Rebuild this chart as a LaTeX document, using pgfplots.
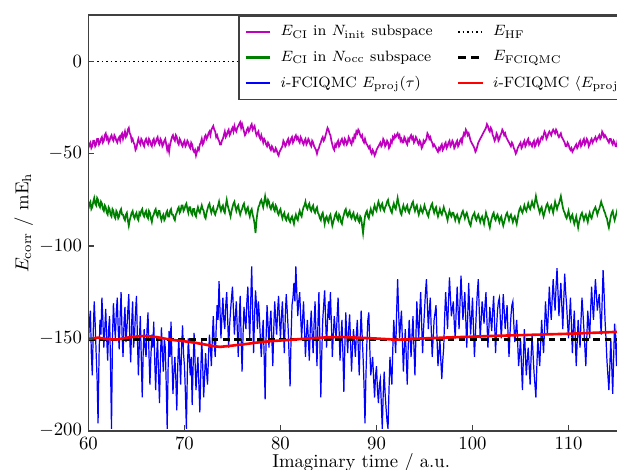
\documentclass[border=0pt]{standalone}
\usepackage{pgfplots}
\pgfplotsset{compat=1.18}
\definecolor{mplm}{rgb}{0.75,0,0.75}
\definecolor{mplg}{rgb}{0,0.5,0}
\begin{document}
\begin{tikzpicture}
% the reference is cut off on the right, so the axis runs past the page edge
\useasboundingbox (-47.3pt,-21.0pt) rectangle (282.6pt,230.3pt);
\clip (-47.3pt,-21.0pt) rectangle (282.6pt,230.3pt);
\begin{axis}[
    at={(0,0)}, anchor=south west,
    scale only axis,
    width=291.6pt, height=222.2pt,
    xmin=60, xmax=116.8,
    ymin=-200, ymax=25,
    xtick={60,70,...,110},
    ytick={-200,-150,...,0},
    tick pos=left,
    tick align=inside,
    major tick length=3pt,
    axis on top,
    axis line style={black!75, line width=0.9pt},
    every tick/.style={black!75, line width=0.7pt},
    xlabel={Imaginary time / a.u.},
    xlabel style={yshift=4.5pt},
    ylabel={$E_{\mathrm{corr}}$ / mE$_{\mathrm{h}}$},
    ylabel shift=-3.5pt,
    legend columns=2,
    legend cell align=left,
    legend style={at={(0.274,1)}, anchor=north west, draw=black!75,
        line width=0.9pt, fill=white, font=\footnotesize,
        inner xsep=3pt, inner ysep=3pt, row sep=2.5pt,
        /tikz/every odd column/.append style={column sep=3pt},
        /tikz/every even column/.append style={column sep=11pt}},
    legend image code/.code={\draw[#1] (0pt,0pt) -- (13pt,0pt);},
]
\addplot[mplm, line width=0.9pt, forget plot] coordinates {
(60.0,-47)(60.1,-45)(60.2,-44)(60.3,-47)(60.4,-46)(60.5,-43)(60.6,-43)(60.7,-46)(60.8,-45)(60.9,-42)
(61.0,-42)(61.1,-45)(61.2,-44)(61.3,-42)(61.4,-41)(61.5,-44)(61.6,-43)(61.7,-40)(61.8,-39)(61.9,-42)
(62.0,-41)(62.1,-44)(62.2,-43)(62.3,-41)(62.4,-40)(62.5,-42)(62.6,-43)(62.7,-40)(62.8,-41)(62.9,-43)
(63.0,-44)(63.1,-42)(63.2,-41)(63.3,-43)(63.4,-40)(63.5,-39)(63.6,-42)(63.7,-40)(63.8,-38)(63.9,-41)
(64.0,-40)(64.1,-37)(64.2,-36)(64.3,-39)(64.4,-40)(64.5,-43)(64.6,-42)(64.7,-44)(64.8,-45)(64.9,-48)
(65.0,-47)(65.1,-44)(65.2,-42)(65.3,-44)(65.4,-45)(65.5,-42)(65.6,-43)(65.7,-45)(65.8,-46)(65.9,-43)
(66.0,-42)(66.1,-44)(66.2,-45)(66.3,-42)(66.4,-43)(66.5,-45)(66.6,-46)(66.7,-43)(66.8,-42)(66.9,-45)
(67.0,-44)(67.1,-42)(67.2,-41)(67.3,-44)(67.4,-45)(67.5,-42)(67.6,-43)(67.7,-46)(67.8,-45)(67.9,-43)
(68.0,-42)(68.1,-45)(68.2,-48)(68.3,-46)(68.4,-49)(68.5,-45)(68.6,-43)(68.7,-41)(68.8,-40)(68.9,-42)
(69.0,-43)(69.1,-40)(69.2,-41)(69.3,-44)(69.4,-45)(69.5,-42)(69.6,-43)(69.7,-45)(69.8,-46)(69.9,-44)
(70.0,-43)(70.1,-46)(70.2,-45)(70.3,-43)(70.4,-44)(70.5,-46)(70.6,-47)(70.7,-44)(70.8,-45)(70.9,-48)
(71.0,-49)(71.1,-48)(71.2,-51)(71.3,-49)(71.4,-47)(71.5,-48)(71.6,-45)(71.7,-44)(71.8,-42)(71.9,-45)
(72.0,-44)(72.1,-41)(72.2,-40)(72.3,-42)(72.4,-41)(72.5,-39)(72.6,-38)(72.7,-40)(72.8,-37)(72.9,-36)
(73.0,-35)(73.1,-37)(73.2,-38)(73.3,-41)(73.4,-40)(73.5,-42)(73.6,-43)(73.7,-45)(73.8,-45)(73.9,-43)
(74.0,-42)(74.1,-40)(74.2,-38)(74.3,-41)(74.4,-40)(74.5,-38)(74.6,-37)(74.7,-40)(74.8,-39)(74.9,-37)
(75.0,-36)(75.1,-38)(75.2,-35)(75.3,-37)(75.4,-38)(75.5,-36)(75.6,-35)(75.7,-34)(75.8,-33)(75.9,-36)
(76.0,-34)(76.1,-36)(76.2,-38)(76.3,-40)(76.4,-39)(76.5,-37)(76.6,-36)(76.7,-38)(76.8,-37)(76.9,-35)
(77.0,-34)(77.1,-37)(77.2,-36)(77.3,-35)(77.4,-38)(77.5,-40)(77.6,-39)(77.7,-38)(77.8,-41)(77.9,-42)
(78.0,-40)(78.1,-42)(78.2,-44)(78.3,-42)(78.4,-43)(78.5,-45)(78.6,-46)(78.7,-44)(78.8,-45)(78.9,-47)
(79.0,-48)(79.1,-46)(79.2,-47)(79.3,-49)(79.4,-49)(79.5,-47)(79.6,-48)(79.7,-50)(79.8,-51)(79.9,-49)
(80.0,-48)(80.1,-47)(80.2,-46)(80.3,-43)(80.4,-44)(80.5,-46)(80.6,-45)(80.7,-43)(80.8,-42)(80.9,-45)
(81.0,-44)(81.1,-42)(81.2,-41)(81.3,-44)(81.4,-43)(81.5,-41)(81.6,-40)(81.7,-42)(81.8,-41)(81.9,-43)
(82.0,-44)(82.1,-41)(82.2,-42)(82.3,-44)(82.4,-45)(82.5,-43)(82.6,-42)(82.7,-45)(82.8,-44)(82.9,-42)
(83.0,-43)(83.1,-45)(83.2,-46)(83.3,-43)(83.4,-44)(83.5,-46)(83.6,-47)(83.7,-48)(83.8,-50)(83.9,-48)
(84.0,-47)(84.1,-45)(84.2,-44)(84.3,-42)(84.4,-41)(84.5,-43)(84.6,-42)(84.7,-40)(84.8,-38)(84.9,-36)
(85.0,-37)(85.1,-39)(85.2,-40)(85.3,-43)(85.4,-45)(85.5,-47)(85.6,-48)(85.7,-45)(85.8,-46)(85.9,-44)
(86.0,-43)(86.1,-46)(86.2,-45)(86.3,-43)(86.4,-42)(86.5,-44)(86.6,-45)(86.7,-42)(86.8,-43)(86.9,-45)
(87.0,-44)(87.1,-41)(87.2,-42)(87.3,-44)(87.4,-45)(87.5,-42)(87.6,-43)(87.7,-40)(87.8,-41)(87.9,-38)
(88.0,-39)(88.1,-37)(88.2,-38)(88.3,-40)(88.4,-41)(88.5,-40)(88.6,-43)(88.7,-44)(88.8,-42)(88.9,-44)
(89.0,-45)(89.1,-46)(89.2,-47)(89.3,-46)(89.4,-49)(89.5,-50)(89.6,-48)(89.7,-49)(89.8,-51)(89.9,-50)
(90.0,-48)(90.1,-47)(90.2,-46)(90.3,-45)(90.4,-44)(90.5,-46)(90.6,-45)(90.7,-42)(90.8,-43)(90.9,-46)
(91.0,-45)(91.1,-43)(91.2,-44)(91.3,-47)(91.4,-46)(91.5,-43)(91.6,-44)(91.7,-41)(91.8,-42)(91.9,-40)
(92.0,-41)(92.1,-40)(92.2,-39)(92.3,-41)(92.4,-40)(92.5,-43)(92.6,-42)(92.7,-44)(92.8,-44)(92.9,-41)
(93.0,-42)(93.1,-44)(93.2,-45)(93.3,-42)(93.4,-43)(93.5,-41)(93.6,-40)(93.7,-42)(93.8,-41)(93.9,-44)
(94.0,-43)(94.1,-41)(94.2,-42)(94.3,-44)(94.4,-45)(94.5,-43)(94.6,-44)(94.7,-47)(94.8,-46)(94.9,-43)
(95.0,-44)(95.1,-43)(95.2,-42)(95.3,-39)(95.4,-40)(95.5,-42)(95.6,-41)(95.7,-43)(95.8,-44)(95.9,-46)
(96.0,-45)(96.1,-46)(96.2,-47)(96.3,-48)(96.4,-49)(96.5,-47)(96.6,-48)(96.7,-46)(96.8,-45)(96.9,-48)
(97.0,-47)(97.1,-45)(97.2,-44)(97.3,-47)(97.4,-46)(97.5,-44)(97.6,-43)(97.7,-46)(97.8,-45)(97.9,-43)
(98.0,-44)(98.1,-47)(98.2,-46)(98.3,-44)(98.4,-43)(98.5,-46)(98.6,-45)(98.7,-43)(98.8,-42)(98.9,-44)
(99.0,-41)(99.1,-39)(99.2,-40)(99.3,-37)(99.4,-38)(99.5,-40)(99.6,-39)(99.7,-41)(99.8,-43)(99.9,-44)
(100.0,-45)(100.1,-46)(100.2,-47)(100.3,-49)(100.4,-48)(100.5,-46)(100.6,-44)(100.7,-43)(100.8,-42)(100.9,-41)
(101.0,-40)(101.1,-39)(101.2,-38)(101.3,-37)(101.4,-36)(101.5,-34)(101.6,-35)(101.7,-37)(101.8,-38)(101.9,-36)
(102.0,-37)(102.1,-40)(102.2,-41)(102.3,-43)(102.4,-42)(102.5,-39)(102.6,-40)(102.7,-43)(102.8,-42)(102.9,-40)
(103.0,-39)(103.1,-37)(103.2,-38)(103.3,-40)(103.4,-39)(103.5,-41)(103.6,-42)(103.7,-43)(103.8,-44)(103.9,-45)
(104.0,-46)(104.1,-44)(104.2,-45)(104.3,-47)(104.4,-48)(104.5,-50)(104.6,-49)(104.7,-47)(104.8,-46)(104.9,-45)
(105.0,-44)(105.1,-47)(105.2,-46)(105.3,-44)(105.4,-43)(105.5,-46)(105.6,-45)(105.7,-43)(105.8,-42)(105.9,-45)
(106.0,-44)(106.1,-45)(106.2,-46)(106.3,-44)(106.4,-43)(106.5,-46)(106.6,-45)(106.7,-43)(106.8,-42)(106.9,-45)
(107.0,-44)(107.1,-42)(107.2,-41)(107.3,-42)(107.4,-40)(107.5,-38)(107.6,-39)(107.7,-42)(107.8,-41)(107.9,-39)
(108.0,-38)(108.1,-39)(108.2,-40)(108.3,-38)(108.4,-37)(108.5,-38)(108.6,-39)(108.7,-37)(108.8,-38)(108.9,-40)
(109.0,-41)(109.1,-40)(109.2,-39)(109.3,-41)(109.4,-42)(109.5,-43)(109.6,-44)(109.7,-46)(109.8,-46)(109.9,-44)
(110.0,-45)(110.1,-47)(110.2,-48)(110.3,-47)(110.4,-49)(110.5,-48)(110.6,-47)(110.7,-46)(110.8,-45)(110.9,-47)
(111.0,-46)(111.1,-44)(111.2,-43)(111.3,-46)(111.4,-45)(111.5,-43)(111.6,-42)(111.7,-45)(111.8,-44)(111.9,-42)
(112.0,-43)(112.1,-46)(112.2,-45)(112.3,-43)(112.4,-42)(112.5,-44)(112.6,-43)(112.7,-42)(112.8,-41)(112.9,-43)
(113.0,-42)(113.1,-41)(113.2,-40)(113.3,-42)(113.4,-41)(113.5,-38)(113.6,-39)(113.7,-41)(113.8,-40)(113.9,-41)
(114.0,-42)(114.1,-43)(114.2,-44)(114.3,-42)(114.4,-42)(114.5,-44)(114.6,-45)(114.7,-43)(114.8,-44)(114.9,-46)
(115.0,-46)(115.1,-43)(115.2,-44)(115.3,-46)(115.4,-47)(115.5,-44)(115.6,-45)(115.7,-42)(115.8,-43)(115.9,-45)(116.0,-46)
};
\addplot[mplg, line width=0.9pt, forget plot] coordinates {
(60.0,-80)(60.1,-77)(60.2,-76)(60.3,-80)(60.4,-79)(60.5,-76)(60.6,-74)(60.7,-77)(60.8,-78)(60.9,-74)
(61.0,-75)(61.1,-78)(61.2,-79)(61.3,-76)(61.4,-77)(61.5,-80)(61.6,-81)(61.7,-78)(61.8,-79)(61.9,-82)
(62.0,-83)(62.1,-79)(62.2,-80)(62.3,-83)(62.4,-84)(62.5,-80)(62.6,-81)(62.7,-84)(62.8,-85)(62.9,-81)
(63.0,-82)(63.1,-85)(63.2,-84)(63.3,-81)(63.4,-80)(63.5,-83)(63.6,-83)(63.7,-85)(63.8,-86)(63.9,-83)
(64.0,-82)(64.1,-86)(64.2,-89)(64.3,-86)(64.4,-84)(64.5,-82)(64.6,-81)(64.7,-84)(64.8,-85)(64.9,-83)
(65.0,-82)(65.1,-85)(65.2,-86)(65.3,-82)(65.4,-83)(65.5,-81)(65.6,-80)(65.7,-83)(65.8,-84)(65.9,-82)
(66.0,-81)(66.1,-84)(66.2,-85)(66.3,-81)(66.4,-82)(66.5,-85)(66.6,-87)(66.7,-84)(66.8,-83)(66.9,-81)
(67.0,-80)(67.1,-83)(67.2,-84)(67.3,-81)(67.4,-81)(67.5,-84)(67.6,-86)(67.7,-84)(67.8,-83)(67.9,-86)
(68.0,-85)(68.1,-82)(68.2,-81)(68.3,-84)(68.4,-84)(68.5,-81)(68.6,-80)(68.7,-83)(68.8,-83)(68.9,-85)
(69.0,-86)(69.1,-83)(69.2,-82)(69.3,-80)(69.4,-79)(69.5,-82)(69.6,-81)(69.7,-78)(69.8,-78)(69.9,-81)
(70.0,-80)(70.1,-78)(70.2,-77)(70.3,-80)(70.4,-82)(70.5,-79)(70.6,-79)(70.7,-82)(70.8,-83)(70.9,-80)
(71.0,-80)(71.1,-83)(71.2,-84)(71.3,-81)(71.4,-79)(71.5,-81)(71.6,-82)(71.7,-80)(71.8,-78)(71.9,-80)
(72.0,-81)(72.1,-84)(72.2,-85)(72.3,-82)(72.4,-80)(72.5,-78)(72.6,-77)(72.7,-80)(72.8,-82)(72.9,-80)
(73.0,-79)(73.1,-82)(73.2,-83)(73.3,-81)(73.4,-80)(73.5,-78)(73.6,-76)(73.7,-79)(73.8,-81)(73.9,-79)
(74.0,-78)(74.1,-81)(74.2,-82)(74.3,-78)(74.4,-75)(74.5,-78)(74.6,-80)(74.7,-82)(74.8,-84)(74.9,-81)
(75.0,-79)(75.1,-77)(75.2,-76)(75.3,-79)(75.4,-81)(75.5,-79)(75.6,-78)(75.7,-81)(75.8,-83)(75.9,-81)
(76.0,-80)(76.1,-78)(76.2,-77)(76.3,-80)(76.4,-82)(76.5,-80)(76.6,-79)(76.7,-82)(76.8,-84)(76.9,-81)
(77.0,-80)(77.1,-83)(77.2,-85)(77.3,-88)(77.4,-93)(77.5,-86)(77.6,-82)(77.7,-79)(77.8,-78)(77.9,-76)
(78.0,-75)(78.1,-77)(78.2,-79)(78.3,-76)(78.4,-73)(78.5,-76)(78.6,-78)(78.7,-75)(78.8,-76)(78.9,-79)
(79.0,-80)(79.1,-78)(79.2,-77)(79.3,-80)(79.4,-81)(79.5,-78)(79.6,-79)(79.7,-82)(79.8,-83)(79.9,-81)
(80.0,-80)(80.1,-83)(80.2,-85)(80.3,-83)(80.4,-82)(80.5,-85)(80.6,-86)(80.7,-84)(80.8,-83)(80.9,-86)
(81.0,-87)(81.1,-85)(81.2,-84)(81.3,-86)(81.4,-88)(81.5,-85)(81.6,-83)(81.7,-85)(81.8,-86)(81.9,-83)
(82.0,-81)(82.1,-83)(82.2,-84)(82.3,-81)(82.4,-79)(82.5,-78)(82.6,-76)(82.7,-79)(82.8,-80)(82.9,-78)
(83.0,-77)(83.1,-80)(83.2,-81)(83.3,-79)(83.4,-78)(83.5,-81)(83.6,-82)(83.7,-80)(83.8,-79)(83.9,-82)
(84.0,-83)(84.1,-85)(84.2,-86)(84.3,-83)(84.4,-82)(84.5,-85)(84.6,-88)(84.7,-85)(84.8,-84)(84.9,-86)
(85.0,-87)(85.1,-84)(85.2,-83)(85.3,-86)(85.4,-89)(85.5,-87)(85.6,-85)(85.7,-83)(85.8,-82)(85.9,-85)
(86.0,-86)(86.1,-83)(86.2,-84)(86.3,-87)(86.4,-88)(86.5,-85)(86.6,-83)(86.7,-81)(86.8,-80)(86.9,-83)
(87.0,-84)(87.1,-82)(87.2,-81)(87.3,-84)(87.4,-85)(87.5,-83)(87.6,-82)(87.7,-85)(87.8,-86)(87.9,-84)
(88.0,-83)(88.1,-86)(88.2,-87)(88.3,-84)(88.4,-85)(88.5,-89)(88.6,-93)(88.7,-88)(88.8,-84)(88.9,-82)
(89.0,-81)(89.1,-84)(89.2,-85)(89.3,-82)(89.4,-80)(89.5,-82)(89.6,-83)(89.7,-80)(89.8,-78)(89.9,-80)
(90.0,-81)(90.1,-78)(90.2,-76)(90.3,-78)(90.4,-80)(90.5,-78)(90.6,-77)(90.7,-80)(90.8,-81)(90.9,-79)
(91.0,-78)(91.1,-76)(91.2,-75)(91.3,-78)(91.4,-79)(91.5,-81)(91.6,-82)(91.7,-79)(91.8,-77)(91.9,-79)
(92.0,-80)(92.1,-77)(92.2,-74)(92.3,-77)(92.4,-79)(92.5,-82)(92.6,-83)(92.7,-80)(92.8,-78)(92.9,-80)
(93.0,-81)(93.1,-79)(93.2,-78)(93.3,-81)(93.4,-82)(93.5,-80)(93.6,-79)(93.7,-77)(93.8,-76)(93.9,-79)
(94.0,-81)(94.1,-79)(94.2,-78)(94.3,-81)(94.4,-83)(94.5,-81)(94.6,-79)(94.7,-81)(94.8,-82)(94.9,-80)
(95.0,-78)(95.1,-80)(95.2,-81)(95.3,-83)(95.4,-84)(95.5,-81)(95.6,-80)(95.7,-78)(95.8,-77)(95.9,-80)
(96.0,-82)(96.1,-80)(96.2,-79)(96.3,-82)(96.4,-84)(96.5,-82)(96.6,-80)(96.7,-82)(96.8,-83)(96.9,-81)
(97.0,-79)(97.1,-81)(97.2,-82)(97.3,-84)(97.4,-86)(97.5,-83)(97.6,-81)(97.7,-83)(97.8,-84)(97.9,-82)
(98.0,-82)(98.1,-84)(98.2,-86)(98.3,-84)(98.4,-83)(98.5,-85)(98.6,-87)(98.7,-85)(98.8,-84)(98.9,-82)
(99.0,-81)(99.1,-83)(99.2,-85)(99.3,-83)(99.4,-82)(99.5,-84)(99.6,-86)(99.7,-88)(99.8,-89)(99.9,-86)
(100.0,-84)(100.1,-83)(100.2,-82)(100.3,-85)(100.4,-86)(100.5,-84)(100.6,-83)(100.7,-85)(100.8,-87)(100.9,-85)
(101.0,-84)(101.1,-86)(101.2,-88)(101.3,-85)(101.4,-82)(101.5,-84)(101.6,-85)(101.7,-88)(101.8,-90)(101.9,-87)
(102.0,-85)(102.1,-83)(102.2,-82)(102.3,-85)(102.4,-86)(102.5,-84)(102.6,-83)(102.7,-85)(102.8,-87)(102.9,-85)
(103.0,-84)(103.1,-87)(103.2,-89)(103.3,-87)(103.4,-85)(103.5,-83)(103.6,-82)(103.7,-84)(103.8,-86)(103.9,-84)
(104.0,-83)(104.1,-85)(104.2,-87)(104.3,-85)(104.4,-84)(104.5,-86)(104.6,-88)(104.7,-85)(104.8,-82)(104.9,-80)
(105.0,-79)(105.1,-81)(105.2,-82)(105.3,-80)(105.4,-78)(105.5,-80)(105.6,-81)(105.7,-79)(105.8,-77)(105.9,-79)
(106.0,-80)(106.1,-78)(106.2,-76)(106.3,-78)(106.4,-79)(106.5,-76)(106.6,-73)(106.7,-76)(106.8,-78)(106.9,-80)
(107.0,-82)(107.1,-80)(107.2,-79)(107.3,-82)(107.4,-84)(107.5,-82)(107.6,-80)(107.7,-78)(107.8,-77)(107.9,-79)
(108.0,-81)(108.1,-79)(108.2,-78)(108.3,-80)(108.4,-82)(108.5,-79)(108.6,-76)(108.7,-78)(108.8,-80)(108.9,-78)
(109.0,-77)(109.1,-75)(109.2,-73)(109.3,-76)(109.4,-79)(109.5,-81)(109.6,-82)(109.7,-84)(109.8,-85)(109.9,-83)
(110.0,-81)(110.1,-84)(110.2,-86)(110.3,-84)(110.4,-83)(110.5,-86)(110.6,-88)(110.7,-86)(110.8,-84)(110.9,-87)
(111.0,-90)(111.1,-87)(111.2,-85)(111.3,-83)(111.4,-82)(111.5,-84)(111.6,-86)(111.7,-84)(111.8,-83)(111.9,-85)
(112.0,-87)(112.1,-84)(112.2,-82)(112.3,-84)(112.4,-85)(112.5,-83)(112.6,-81)(112.7,-80)(112.8,-79)(112.9,-81)
(113.0,-83)(113.1,-81)(113.2,-80)(113.3,-78)(113.4,-76)(113.5,-78)(113.6,-79)(113.7,-81)(113.8,-82)(113.9,-84)
(114.0,-85)(114.1,-88)(114.2,-90)(114.3,-87)(114.4,-84)(114.5,-82)(114.6,-81)(114.7,-84)(114.8,-86)(114.9,-84)
(115.0,-82)(115.1,-80)(115.2,-79)(115.3,-81)(115.4,-83)(115.5,-81)(115.6,-80)(115.7,-82)(115.8,-84)(115.9,-83)(116.0,-82)
};
\addplot[blue, line width=0.65pt, forget plot] coordinates {
(60.0,-152)(60.1,-141)(60.2,-135)(60.3,-158)(60.4,-170)(60.5,-146)(60.6,-130)(60.7,-142)(60.8,-158)(60.9,-172)
(61.0,-196)(61.1,-160)(61.2,-140)(61.3,-148)(61.4,-128)(61.5,-140)(61.6,-155)(61.7,-145)(61.8,-134)(61.9,-150)
(62.0,-162)(62.1,-145)(62.2,-138)(62.3,-165)(62.4,-199)(62.5,-150)(62.6,-131)(62.7,-142)(62.8,-150)(62.9,-136)
(63.0,-128)(63.1,-145)(63.2,-156)(63.3,-138)(63.4,-125)(63.5,-148)(63.6,-160)(63.7,-142)(63.8,-133)(63.9,-152)
(64.0,-145)(64.1,-135)(64.2,-126)(64.3,-150)(64.4,-163)(64.5,-142)(64.6,-130)(64.7,-155)(64.8,-148)(64.9,-136)
(65.0,-127)(65.1,-150)(65.2,-170)(65.3,-152)(65.4,-138)(65.5,-160)(65.6,-182)(65.7,-158)(65.8,-145)(65.9,-155)
(66.0,-160)(66.1,-145)(66.2,-136)(66.3,-158)(66.4,-175)(66.5,-160)(66.6,-148)(66.7,-155)(66.8,-141)(66.9,-162)
(67.0,-178)(67.1,-160)(67.2,-150)(67.3,-170)(67.4,-185)(67.5,-160)(67.6,-144)(67.7,-158)(67.8,-168)(67.9,-150)
(68.0,-155)(68.1,-175)(68.2,-199)(68.3,-165)(68.4,-146)(68.5,-160)(68.6,-141)(68.7,-162)(68.8,-180)(68.9,-168)
(69.0,-160)(69.1,-172)(69.2,-189)(69.3,-165)(69.4,-150)(69.5,-162)(69.6,-175)(69.7,-155)(69.8,-143)(69.9,-158)
(70.0,-165)(70.1,-180)(70.2,-199)(70.3,-168)(70.4,-150)(70.5,-160)(70.6,-170)(70.7,-160)(70.8,-186)(70.9,-165)
(71.0,-147)(71.1,-162)(71.2,-178)(71.3,-168)(71.4,-160)(71.5,-175)(71.6,-190)(71.7,-168)(71.8,-150)(71.9,-165)
(72.0,-182)(72.1,-170)(72.2,-158)(72.3,-168)(72.4,-175)(72.5,-160)(72.6,-148)(72.7,-155)(72.8,-165)(72.9,-150)
(73.0,-138)(73.1,-152)(73.2,-160)(73.3,-145)(73.4,-132)(73.5,-140)(73.6,-119)(73.7,-135)(73.8,-150)(73.9,-138)
(74.0,-128)(74.1,-140)(74.2,-145)(74.3,-132)(74.4,-125)(74.5,-140)(74.6,-155)(74.7,-143)(74.8,-135)(74.9,-128)
(75.0,-122)(75.1,-135)(75.2,-148)(75.3,-138)(75.4,-130)(75.5,-145)(75.6,-160)(75.7,-140)(75.8,-127)(75.9,-150)
(76.0,-168)(76.1,-148)(76.2,-133)(76.3,-140)(76.4,-145)(76.5,-130)(76.6,-122)(76.7,-138)(76.8,-150)(76.9,-130)
(77.0,-111)(77.1,-135)(77.2,-158)(77.3,-138)(77.4,-124)(77.5,-132)(77.6,-145)(77.7,-130)(77.8,-138)(77.9,-150)
(78.0,-160)(78.1,-148)(78.2,-140)(78.3,-160)(78.4,-183)(78.5,-150)(78.6,-132)(78.7,-142)(78.8,-155)(78.9,-142)
(79.0,-135)(79.1,-150)(79.2,-165)(79.3,-145)(79.4,-130)(79.5,-140)(79.6,-148)(79.7,-135)(79.8,-127)(79.9,-140)
(80.0,-150)(80.1,-138)(80.2,-130)(80.3,-145)(80.4,-158)(80.5,-138)(80.6,-126)(80.7,-135)(80.8,-145)(80.9,-160)
(81.0,-176)(81.1,-150)(81.2,-132)(81.3,-128)(81.4,-120)(81.5,-130)(81.6,-111)(81.7,-125)(81.8,-138)(81.9,-130)
(82.0,-125)(82.1,-138)(82.2,-150)(82.3,-140)(82.4,-130)(82.5,-145)(82.6,-160)(82.7,-148)(82.8,-140)(82.9,-150)
(83.0,-162)(83.1,-145)(83.2,-135)(83.3,-148)(83.4,-158)(83.5,-142)(83.6,-130)(83.7,-148)(83.8,-165)(83.9,-142)
(84.0,-125)(84.1,-150)(84.2,-182)(84.3,-158)(84.4,-140)(84.5,-132)(84.6,-124)(84.7,-140)(84.8,-155)(84.9,-140)
(85.0,-130)(85.1,-140)(85.2,-125)(85.3,-142)(85.4,-160)(85.5,-148)(85.6,-138)(85.7,-145)(85.8,-150)(85.9,-138)
(86.0,-128)(86.1,-145)(86.2,-162)(86.3,-150)(86.4,-140)(86.5,-158)(86.6,-179)(86.7,-155)(86.8,-136)(86.9,-148)
(87.0,-158)(87.1,-145)(87.2,-137)(87.3,-152)(87.4,-168)(87.5,-155)(87.6,-145)(87.7,-152)(87.8,-160)(87.9,-148)
(88.0,-140)(88.1,-155)(88.2,-170)(88.3,-150)(88.4,-135)(88.5,-148)(88.6,-160)(88.7,-175)(88.8,-196)(88.9,-170)
(89.0,-152)(89.1,-140)(89.2,-136)(89.3,-155)(89.4,-170)(89.5,-165)(89.6,-160)(89.7,-172)(89.8,-182)(89.9,-170)
(90.0,-165)(90.1,-178)(90.2,-185)(90.3,-175)(90.4,-172)(90.5,-185)(90.6,-199)(90.7,-180)(90.8,-168)(90.9,-180)
(91.0,-188)(91.1,-195)(91.2,-199)(91.3,-178)(91.4,-160)(91.5,-168)(91.6,-175)(91.7,-155)(91.8,-140)(91.9,-150)
(92.0,-158)(92.1,-135)(92.2,-118)(92.3,-135)(92.4,-150)(92.5,-142)(92.6,-135)(92.7,-152)(92.8,-168)(92.9,-155)
(93.0,-145)(93.1,-160)(93.2,-175)(93.3,-155)(93.4,-140)(93.5,-150)(93.6,-160)(93.7,-148)(93.8,-138)(93.9,-155)
(94.0,-170)(94.1,-150)(94.2,-130)(94.3,-142)(94.4,-150)(94.5,-136)(94.6,-125)(94.7,-142)(94.8,-158)(94.9,-145)
(95.0,-135)(95.1,-125)(95.2,-118)(95.3,-132)(95.4,-145)(95.5,-135)(95.6,-128)(95.7,-145)(95.8,-160)(95.9,-150)
(96.0,-140)(96.1,-136)(96.2,-132)(96.3,-150)(96.4,-165)(96.5,-158)(96.6,-150)(96.7,-162)(96.8,-172)(96.9,-162)
(97.0,-155)(97.1,-138)(97.2,-125)(97.3,-135)(97.4,-145)(97.5,-130)(97.6,-117)(97.7,-128)(97.8,-138)(97.9,-134)
(98.0,-130)(98.1,-142)(98.2,-150)(98.3,-135)(98.4,-122)(98.5,-135)(98.6,-145)(98.7,-130)(98.8,-116)(98.9,-128)
(99.0,-140)(99.1,-132)(99.2,-125)(99.3,-140)(99.4,-155)(99.5,-138)(99.6,-120)(99.7,-135)(99.8,-148)(99.9,-138)
(100.0,-128)(100.1,-145)(100.2,-160)(100.3,-148)(100.4,-135)(100.5,-125)(100.6,-118)(100.7,-135)(100.8,-150)(100.9,-140)
(101.0,-130)(101.1,-136)(101.2,-142)(101.3,-132)(101.4,-125)(101.5,-140)(101.6,-155)(101.7,-145)(101.8,-133)(101.9,-140)
(102.0,-146)(102.1,-135)(102.2,-127)(102.3,-142)(102.4,-158)(102.5,-145)(102.6,-135)(102.7,-130)(102.8,-128)(102.9,-140)
(103.0,-150)(103.1,-138)(103.2,-126)(103.3,-135)(103.4,-145)(103.5,-138)(103.6,-132)(103.7,-148)(103.8,-160)(103.9,-148)
(104.0,-138)(104.1,-132)(104.2,-130)(104.3,-142)(104.4,-152)(104.5,-146)(104.6,-140)(104.7,-152)(104.8,-165)(104.9,-158)
(105.0,-150)(105.1,-165)(105.2,-178)(105.3,-160)(105.4,-145)(105.5,-158)(105.6,-170)(105.7,-162)(105.8,-155)(105.9,-165)
(106.0,-175)(106.1,-160)(106.2,-148)(106.3,-158)(106.4,-168)(106.5,-175)(106.6,-182)(106.7,-165)(106.8,-150)(106.9,-158)
(107.0,-165)(107.1,-152)(107.2,-140)(107.3,-150)(107.4,-158)(107.5,-145)(107.6,-130)(107.7,-140)(107.8,-148)(107.9,-135)
(108.0,-122)(108.1,-132)(108.2,-140)(108.3,-128)(108.4,-118)(108.5,-128)(108.6,-135)(108.7,-122)(108.8,-112)(108.9,-125)
(109.0,-138)(109.1,-128)(109.2,-120)(109.3,-132)(109.4,-145)(109.5,-130)(109.6,-115)(109.7,-125)(109.8,-132)(109.9,-142)
(110.0,-150)(110.1,-138)(110.2,-128)(110.3,-142)(110.4,-158)(110.5,-145)(110.6,-135)(110.7,-150)(110.8,-165)(110.9,-152)
(111.0,-140)(111.1,-148)(111.2,-155)(111.3,-140)(111.4,-128)(111.5,-136)(111.6,-145)(111.7,-155)(111.8,-165)(111.9,-150)
(112.0,-135)(112.1,-142)(112.2,-150)(112.3,-135)(112.4,-122)(112.5,-132)(112.6,-140)(112.7,-128)(112.8,-118)(112.9,-126)
(113.0,-135)(113.1,-130)(113.2,-126)(113.3,-138)(113.4,-148)(113.5,-130)(113.6,-113)(113.7,-125)(113.8,-140)(113.9,-150)
(114.0,-162)(114.1,-170)(114.2,-178)(114.3,-165)(114.4,-150)(114.5,-165)(114.6,-180)(114.7,-160)(114.8,-142)(114.9,-152)
(115.0,-165)(115.1,-145)(115.2,-125)(115.3,-138)(115.4,-150)(115.5,-142)(115.6,-135)(115.7,-148)(115.8,-160)(115.9,-152)(116.0,-145)
};
\addplot[black, dash pattern=on 0.8pt off 1.6pt, line width=0.8pt, forget plot] coordinates {(60,0) (116.8,0)};
\addplot[black, dash pattern=on 3.5pt off 2.5pt, line width=1.3pt, forget plot]
    coordinates {(60,-150.5) (116.8,-150.5)};
\addplot[red, line width=1.4pt, forget plot] coordinates {
(60,-150.3)(61,-149.6)(62,-150.4)(63,-150.6)(64,-149.6)(65,-149)(65.8,-148.7)
(67,-149.2)(68,-150.2)(69,-151)(70,-151.6)(71,-152.3)(72,-153.2)(73,-154.2)
(73.7,-154.6)(74.5,-154.2)(75.5,-153.6)(76.5,-153)(77.5,-152.3)(79,-151.5)
(81,-150.8)(83,-150)(85,-149.4)(86.5,-149.3)(88,-149.6)(90,-150.1)(92,-150.7)
(93,-150.6)(94,-150.2)(96,-149.8)(98,-149.4)(100,-149.1)(102,-148.7)(104,-148.4)
(106,-148.1)(108,-147.8)(110,-147.5)(112,-147.1)(114,-146.7)(116,-146.3)
};
% legend, filled row by row as in the reference's two columns
\addlegendimage{mplm, line width=1.4pt}
\addlegendentry{$E_{\mathrm{CI}}$ in $N_{\mathrm{init}}$ subspace}
\addlegendimage{black, dash pattern=on 0.8pt off 1.6pt, line width=0.9pt}
\addlegendentry{$E_{\mathrm{HF}}$}
\addlegendimage{mplg, line width=1.4pt}
\addlegendentry{$E_{\mathrm{CI}}$ in $N_{\mathrm{occ}}$ subspace}
\addlegendimage{black, dash pattern=on 4pt off 3pt, line width=1.4pt}
\addlegendentry{$E_{\mathrm{FCIQMC}}$}
\addlegendimage{blue, line width=1.4pt}
\addlegendentry{$i$-FCIQMC $E_{\mathrm{proj}}(\tau)$}
\addlegendimage{red, line width=1.4pt}
\addlegendentry{$i$-FCIQMC $\langle E_{\mathrm{proj}}\rangle$, cumulative}
\end{axis}
\end{tikzpicture}
\end{document}
